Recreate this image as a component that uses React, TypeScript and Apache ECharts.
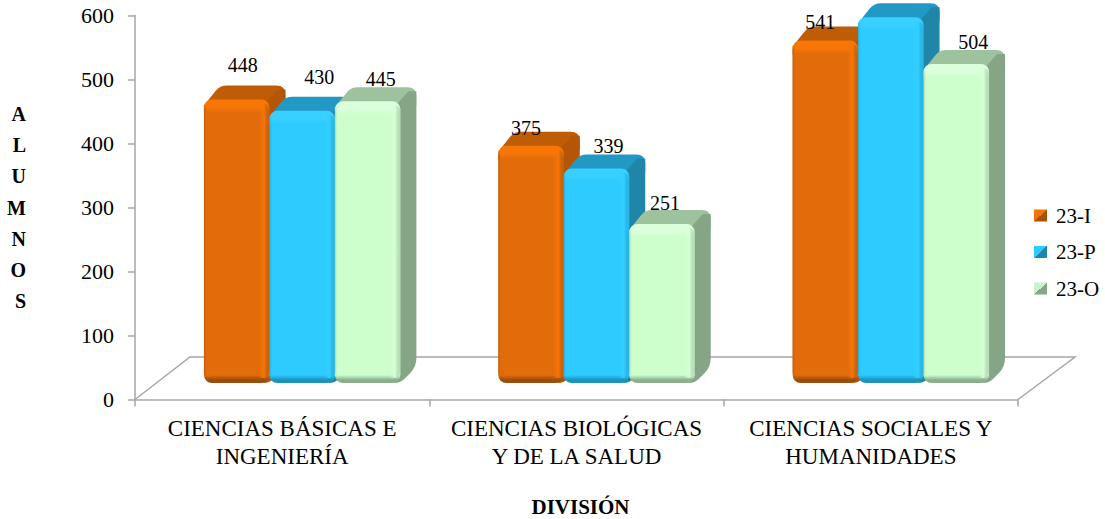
import React, { useEffect, useRef } from "react";
import * as echarts from "echarts";

const categories = ["CIENCIAS BÁSICAS E\nINGENIERÍA", "CIENCIAS BIOLÓGICAS\nY DE LA SALUD", "CIENCIAS SOCIALES Y\nHUMANIDADES"];
const valuesI = [448, 375, 541];
const valuesP = [430, 339, 578];
const valuesO = [445, 251, 504];
const seriesNames = ["23-I", "23-P", "23-O"];
const yTicks = { min: 0, max: 600, interval: 100 };
const hiddenLabels = [[], [2], []];
const labelOffsets = [
  [[6, -34], [-5, -18], [-5, -19]],
  [[17, -34], [12, -22], [0, 0]],
  [[13, -22], [3, -21], [17, -22]],
];
const palette = [
  { main: "#E36C0A", top: "#BF5C06", side: "#B45605", hi: "#F77606", lo: "#994D08", edge: "#F57507", mk1: "#A85208", mk2: "#F07408" },
  { main: "#2DCBFF", top: "#2299C4", side: "#1F86AA", hi: "#38D0FF", lo: "#1C92BC", edge: "#33CFFF", mk1: "#1F86AA", mk2: "#2DCBFF" },
  { main: "#CCFFCC", top: "#9DC29D", side: "#86A586", hi: "#DAFFDA", lo: "#8BAE8B", edge: "#D8FFD8", mk1: "#86A586", mk2: "#CCEFCC" },
];
const FONT = "'Liberation Serif', serif";
const INK = "#000000";
const AXIS = "#A6A6A6";
const DX = 16;
const DY = 14;

function grad(x2: number, y2: number, stops: [number, string][]) {
  return new echarts.graphic.LinearGradient(0, 0, x2, y2, stops.map(([offset, color]) => ({ offset, color })));
}

// Closed outline through the given corners, each corner rounded with its own radius.
echarts.graphic.registerShape(
  "roundPoly",
  echarts.graphic.extendShape({
    shape: { points: [] as number[][] },
    buildPath(ctx: any, shape: any) {
      const points = shape.points;
      const n = points.length;
      points.forEach(([px, py, r]: number[], i: number) => {
        const [ax, ay] = points[(i + n - 1) % n];
        const [bx, by] = points[(i + 1) % n];
        const la = Math.hypot(ax - px, ay - py) || 1;
        const lb = Math.hypot(bx - px, by - py) || 1;
        const sx = px + ((ax - px) / la) * r;
        const sy = py + ((ay - py) / la) * r;
        const ex = px + ((bx - px) / lb) * r;
        const ey = py + ((by - py) / lb) * r;
        if (i === 0) ctx.moveTo(sx, sy);
        else ctx.lineTo(sx, sy);
        ctx.quadraticCurveTo(px, py, ex, ey);
      });
      ctx.closePath();
    },
  })
);

function barRenderer(s: number) {
  const c = palette[s];
  return (_p: any, api: any) => {
    const cat = api.value(0);
    const [cx, t] = api.coord([cat, api.value(1)]);
    const [, b] = api.coord([cat, 0]);
    const w = api.size([1, 0])[0] * 0.2225;
    const x = cx + (s - 1) * w - w / 2;
    const h = b - t;
    const topOutline = [
      [x, t + 6, 0],
      [x + DX, t - DY, 7],
      [x + w + DX, t - DY, 9],
      [x + w + DX, t + 4, 0],
      [x + w, t + 14, 0],
      [x, t + 14, 0],
    ];
    const sideOutline = [
      [x + w - 6, t + 6, 0],
      [x + w + DX - 8, t - DY + 4, 0],
      [x + w + DX, t - DY + 4, 0],
      [x + w + DX, b - DY - 2, 9],
      [x + w, b, 6],
      [x + w - 6, b, 0],
    ];
    return {
      type: "group",
      children: [
        { type: "roundPoly", shape: { points: topOutline }, style: { fill: c.top } },
        { type: "roundPoly", shape: { points: sideOutline }, style: { fill: c.side } },
        {
          type: "rect",
          shape: { x, y: t, width: w, height: h, r: 8 },
          style: {
            fill: grad(0, 1, [[0, c.hi], [8 / h, c.hi], [13 / h, c.main], [1 - 8 / h, c.main], [1 - 3 / h, c.lo], [1, c.lo]]),
          },
        },
        {
          type: "rect",
          shape: { x, y: t + 4, width: w, height: h - 9, r: 6 },
          style: {
            fill: grad(1, 0, [[0, c.lo + "88"], [0.05, c.main + "00"], [0.84, c.edge + "00"], [0.92, c.edge], [1, c.lo + "55"]]),
          },
        },
      ],
    };
  };
}

function labelRenderer(s: number, values: number[]) {
  return (_p: any, api: any) => {
    const i = api.value(0);
    if (hiddenLabels[s].includes(i)) return null;
    const [cx, t] = api.coord([i, api.value(1)]);
    const w = api.size([1, 0])[0] * 0.2225;
    const [ox, oy] = labelOffsets[s][i];
    return {
      type: "text",
      z2: 100,
      style: {
        text: String(values[i]),
        x: cx + (s - 1) * w + ox,
        y: t + oy,
        align: "center",
        verticalAlign: "middle",
        fontFamily: FONT,
        fontSize: 20,
        fill: INK,
      },
    };
  };
}

const allValues = [valuesI, valuesP, valuesO];

export default function App() {
  const ref = useRef<HTMLDivElement>(null);
  useEffect(() => {
    const chart = echarts.init(ref.current!, undefined, { renderer: "svg" });
    const barSeries = allValues.map((vals, s) => ({
      type: "custom",
      name: seriesNames[s],
      xAxisIndex: 1,
      yAxisIndex: 1,
      z: 3 + s,
      renderItem: barRenderer(s),
      encode: { x: 0, y: 1 },
      data: vals.map((v, i) => [i, v]),
      itemStyle: { color: palette[s].main },
    }));
    const labelSeries = allValues.map((vals, s) => ({
      type: "custom",
      name: "labels" + s,
      xAxisIndex: 1,
      yAxisIndex: 1,
      z: 10,
      renderItem: labelRenderer(s, vals),
      encode: { x: 0, y: 1 },
      data: vals.map((v, i) => [i, v]),
    }));
    chart.setOption({
      animation: false,
      backgroundColor: "#FFFFFF",
      textStyle: { fontFamily: FONT, color: INK },
      legend: {
        orient: "vertical",
        left: 1029,
        top: 200,
        itemWidth: 13,
        itemHeight: 12,
        itemGap: 15.5,
        selectedMode: false,
        icon: "rect",
        textStyle: { fontFamily: FONT, fontSize: 21, color: INK, lineHeight: 20, padding: [0, 0, 0, 4] },
        data: seriesNames.map((name, s) => ({
          name,
          itemStyle: { color: grad(1, 1, [[0, palette[s].mk2], [0.5, palette[s].mk2], [0.5, palette[s].mk1], [1, palette[s].mk1]]) },
        })),
      },
      grid: [
        { left: 135, top: 15.5, width: 883, height: 384, outerBoundsMode: "none", containLabel: false },
        { left: 155, top: 3.2, width: 883, height: 379.8, outerBoundsMode: "none", containLabel: false },
      ],
      xAxis: [
        {
          type: "category",
          gridIndex: 0,
          data: categories,
          name: "DIVISIÓN",
          nameLocation: "middle",
          nameGap: 96,
          nameTextStyle: { fontFamily: FONT, fontWeight: "bold", fontSize: 21, lineHeight: 22, color: INK, padding: [0, 0, 0, 8] },
          axisLine: { lineStyle: { color: AXIS, width: 1.5 } },
          axisTick: { show: true, length: 7, lineStyle: { color: AXIS, width: 1.5 } },
          axisLabel: { fontFamily: FONT, fontSize: 23, color: INK, lineHeight: 28, margin: 15, interval: 0 },
        },
        { type: "category", gridIndex: 1, data: categories, show: false },
      ],
      yAxis: [
        {
          type: "value",
          gridIndex: 0,
          ...yTicks,
          name: "A\nL\nU\nM\nN\nO\nS",
          nameLocation: "middle",
          nameRotate: 0,
          nameGap: 109,
          nameTextStyle: { fontFamily: FONT, fontWeight: "bold", fontSize: 20, color: INK, lineHeight: 31.2, padding: [9, 0, 0, 0] },
          axisLine: { show: true, lineStyle: { color: AXIS, width: 1.5 } },
          axisTick: { show: true, length: 7, lineStyle: { color: AXIS, width: 1.5 } },
          splitLine: { show: false },
          axisLabel: { fontFamily: FONT, fontSize: 22, color: INK, margin: 21, padding: [4, 0, 0, 0] },
        },
        { type: "value", gridIndex: 1, ...yTicks, show: false, splitLine: { show: false } },
      ],
      graphic: [
        {
          type: "polyline",
          z: 1,
          shape: { points: [[135, 399.5], [190, 357], [1075, 357], [1018, 399.5]] },
          style: { stroke: AXIS, lineWidth: 1.5, fill: "none" },
        },
      ],
      series: [...barSeries, ...labelSeries],
    });
    return () => chart.dispose();
  }, []);
  return <div ref={ref} style={{ position: "fixed", left: 0, top: 0, width: 1105, height: 519 }} />;
}
